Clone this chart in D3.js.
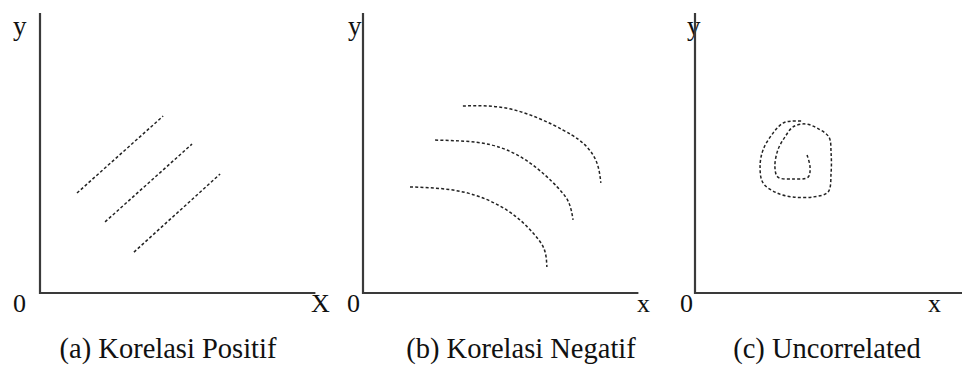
<!DOCTYPE html>
<html>
<head>
<meta charset="utf-8">
<script src="https://cdn.jsdelivr.net/npm/d3@7"></script>
<style>
  body { margin: 0; background: #fff; }
</style>
</head>
<body>
<div id="chart"></div>
<script>
// Frame size
const FRAME_WIDTH = 962;
const FRAME_HEIGHT = 367;
const FONT = "'Liberation Serif', 'Times New Roman', serif";

// Panel captions and axis letters
const captions = ["(a) Korelasi Positif", "(b) Korelasi Negatif", "(c) Uncorrelated"];
const xLetters = ["X", "x", "x"];

// (a) three straight dotted lines, [x, y] in axis units (0-10)
const posLine1 = [[1.37, 3.57], [4.56, 6.32]];
const posLine2 = [[2.41, 2.54], [5.63, 5.32]];
const posLine3 = [[3.48, 1.46], [6.67, 4.25]];

// (b) three bending curves
const negCurve1 = [[3.70, 6.68], [5.56, 6.55], [7.41, 5.82], [8.30, 5.21], [8.68, 4.60], [8.81, 3.93]];
const negCurve2 = [[2.67, 5.46], [4.70, 5.30], [6.19, 4.64], [7.19, 3.79], [7.63, 3.21], [7.78, 2.61]];
const negCurve3 = [[1.74, 3.79], [3.70, 3.61], [5.33, 2.96], [6.30, 2.14], [6.72, 1.54], [6.81, 0.93]];

// (c) spiral
const spiral = [[4.15, 4.93], [4.26, 4.50], [4.19, 4.14], [3.63, 4.07], [3.07, 4.14], [2.96, 4.50],
                [3.07, 5.11], [3.33, 5.57], [3.63, 5.93], [4.07, 6.04], [4.52, 5.89], [4.96, 5.57],
                [5.04, 5.00], [5.04, 4.29], [4.93, 3.61], [4.37, 3.43], [3.63, 3.43], [3.04, 3.57],
                [2.52, 3.93], [2.41, 4.50], [2.52, 5.11], [2.89, 5.71], [3.26, 6.07], [3.59, 6.14], [4.00, 6.14]];

const panelData = [
    {lines: [posLine1, posLine2, posLine3], curve: d3.curveLinear},
    {lines: [negCurve1, negCurve2, negCurve3], curve: d3.curveNatural},
    {lines: [spiral], curve: d3.curveCatmullRom.alpha(0.5)}
];

// Layout of each panel: origin of the axes, letters and caption centre
const ORIGINS = [40, 363, 695];
const CAPTION_X = [168, 521, 827];
const X_LETTER_X = [311, 637, 928];
const Y_LETTER_X = [13, 348, 687];
const ZERO_X = [13, 347, 680];
const ORIGIN_Y = 293;
const AXIS_W = 270;
const AXIS_H = 280;

const FRAME = d3.select("#chart")
    .append("svg")
      .attr("width", FRAME_WIDTH)
      .attr("height", FRAME_HEIGHT);

panelData.forEach((p, i) => {
    const ox = ORIGINS[i];

    const X_SCALE = d3.scaleLinear().domain([0, 10]).range([ox, ox + AXIS_W]);
    const Y_SCALE = d3.scaleLinear().domain([0, 10]).range([ORIGIN_Y, ORIGIN_Y - AXIS_H]);

    const g = FRAME.append("g")
        .style("font-family", FONT)
        .attr("fill", "#111");

    // letters (drawn first so the axis runs over the y in panel c)
    g.append("text")
        .attr("x", Y_LETTER_X[i])
        .attr("y", 35)
        .attr("font-size", 27)
        .text("y");
    g.append("text")
        .attr("x", ZERO_X[i])
        .attr("y", 312)
        .attr("font-size", 26)
        .text("0");
    g.append("text")
        .attr("x", X_LETTER_X[i])
        .attr("y", 312)
        .attr("font-size", 26)
        .text(xLetters[i]);

    // axes: plain L shape
    g.append("path")
        .attr("d", "M" + X_SCALE(0) + "," + Y_SCALE(10) + "V" + Y_SCALE(0) + "H" + X_SCALE(10.2))
        .attr("fill", "none")
        .attr("stroke", "#3a3a3a")
        .attr("stroke-width", 2.2);

    // dotted marks
    const line = d3.line()
        .x(d => X_SCALE(d[0]))
        .y(d => Y_SCALE(d[1]))
        .curve(p.curve);

    g.selectAll("path.mark")
        .data(p.lines)
        .enter()
        .append("path")
          .attr("class", "mark")
          .attr("d", line)
          .attr("fill", "none")
          .attr("stroke", "#222")
          .attr("stroke-width", 1.5)
          .attr("stroke-dasharray", "3,2.2");

    // caption
    g.append("text")
        .attr("x", CAPTION_X[i])
        .attr("y", 358)
        .attr("text-anchor", "middle")
        .attr("font-size", 28.5)
        .text(captions[i]);
});
</script>
</body>
</html>
